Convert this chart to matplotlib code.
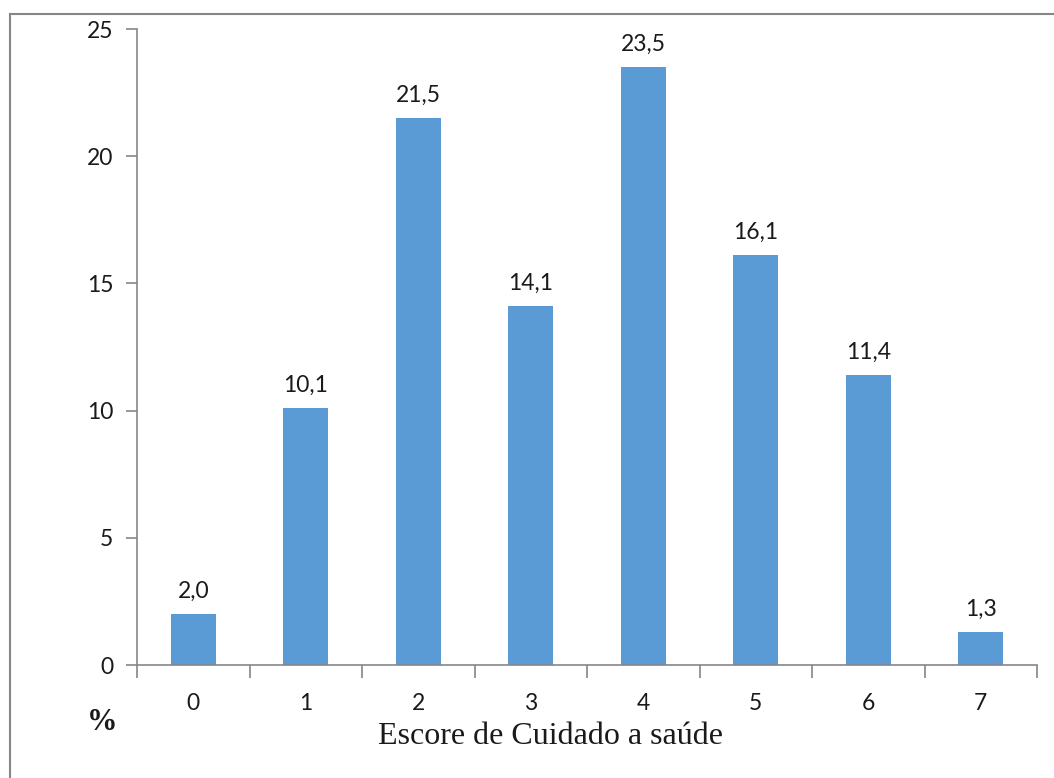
import matplotlib.pyplot as plt
from matplotlib.lines import Line2D
import numpy as np

scores = ['0', '1', '2', '3', '4', '5', '6', '7']
percent = [2.0, 10.1, 21.5, 14.1, 23.5, 16.1, 11.4, 1.3]

bar_color = '#5B9BD5'
axis_color = '#868686'
text_color = '#1a1a1a'

fig = plt.figure(figsize=(10.54, 7.78), dpi=100)
fig.patch.set_facecolor('white')

# outer frame (only top and left edges are visible)
fig.add_artist(Line2D([9.5 / 1054, 1.0], [1 - 13.5 / 778] * 2, transform=fig.transFigure,
                      color=axis_color, lw=1.5))
fig.add_artist(Line2D([9.5 / 1054] * 2, [0.0, 1 - 13.5 / 778], transform=fig.transFigure,
                      color=axis_color, lw=1.5))

ax = fig.add_axes([137 / 1054, 1 - 665 / 778, 900 / 1054, 636 / 778])
x = np.arange(len(scores))
bars = ax.bar(x, percent, width=0.4, color=bar_color, zorder=2)

for xi, v in zip(x, percent):
    ax.annotate(f'{v:.1f}'.replace('.', ','), (xi, v), xytext=(0, 9),
                textcoords='offset points', ha='center', va='bottom',
                fontsize=16.5, family='Lato', color=text_color)

ax.set_xlim(-0.5, len(scores) - 0.5)
ax.set_ylim(0, 25)
ax.set_yticks([0, 5, 10, 15, 20, 25])
ax.set_xticks(x)
ax.set_xticklabels(scores)
ax.set_xticks(np.arange(-0.5, len(scores), 1.0), minor=True)

for lab in ax.get_xticklabels() + ax.get_yticklabels():
    lab.set_family('Lato')
    lab.set_fontsize(16.5)
    lab.set_color(text_color)

ax.tick_params(axis='x', which='major', length=0, pad=20)
ax.tick_params(axis='x', which='minor', length=9, width=1.2, color=axis_color)
ax.tick_params(axis='y', length=8, width=1.2, color=axis_color, pad=9)

for side in ['top', 'right']:
    ax.spines[side].set_visible(False)
for side in ['left', 'bottom']:
    ax.spines[side].set_color(axis_color)
    ax.spines[side].set_linewidth(1.2)

fig.text(550 / 1054, 1 - 737 / 778, 'Escore de Cuidado a saúde', ha='center', va='center',
         family='Liberation Serif', fontsize=23, color=text_color)
fig.text(102 / 1054, 1 - 722 / 778, '%', ha='center', va='center',
         family='Liberation Serif', fontweight='bold', fontsize=22, color=text_color)

fig.savefig('out.png', dpi=100)
